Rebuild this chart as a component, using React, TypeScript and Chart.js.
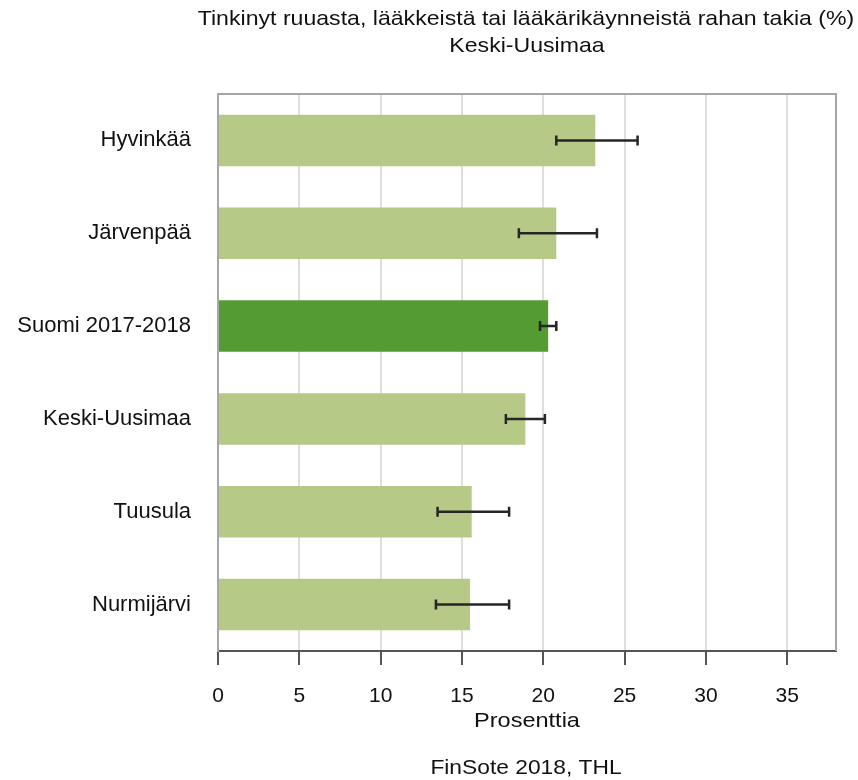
import React, { useEffect, useRef } from "react";
import { Chart, registerables } from "chart.js";
Chart.register(...registerables);

const categories = ["Hyvinkää", "Järvenpää", "Suomi 2017-2018", "Keski-Uusimaa", "Tuusula", "Nurmijärvi"];
const values = [23.2, 20.8, 20.3, 18.9, 15.6, 15.5];
const lowerCI = [20.8, 18.5, 19.8, 17.7, 13.5, 13.4];
const upperCI = [25.8, 23.3, 20.8, 20.1, 17.9, 17.9];
const highlighted = "Suomi 2017-2018";
const titleLines = ["Tinkinyt ruuasta, lääkkeistä tai lääkärikäynneistä rahan takia (%)", "Keski-Uusimaa"];
const xAxisTitle = "Prosenttia";
const sourceText = "FinSote 2018, THL";
const xMin = 0;
const xMax = 38;
const xStep = 5;

const FONT = "'Liberation Sans', Arial, sans-serif";
const LIGHT = "#b7c986";
const DARK = "#549b31";

function stretchedText(ctx: any, text: string, cx: number, cy: number, sx: number) {
  ctx.save();
  ctx.translate(cx, cy);
  ctx.scale(sx, 1);
  ctx.fillText(text, 0, 0);
  ctx.restore();
}

const decorPlugin = {
  id: "decor",
  afterDatasetsDraw(chart: any) {
    const { ctx, chartArea, scales } = chart;
    const xs = scales.x;
    const ys = scales.y;
    ctx.save();
    // frame top/right
    ctx.strokeStyle = "#a6a6a6";
    ctx.lineWidth = 2;
    ctx.beginPath();
    ctx.moveTo(chartArea.left, chartArea.top);
    ctx.lineTo(chartArea.right, chartArea.top);
    ctx.lineTo(chartArea.right, chartArea.bottom);
    ctx.stroke();
    // error bars
    ctx.strokeStyle = "#262626";
    ctx.lineWidth = 2.5;
    for (let i = 0; i < categories.length; i++) {
      const y = ys.getPixelForValue(i);
      const x1 = xs.getPixelForValue(lowerCI[i]);
      const x2 = xs.getPixelForValue(upperCI[i]);
      ctx.beginPath();
      ctx.moveTo(x1, y);
      ctx.lineTo(x2, y);
      ctx.moveTo(x1, y - 5);
      ctx.lineTo(x1, y + 5);
      ctx.moveTo(x2, y - 5);
      ctx.lineTo(x2, y + 5);
      ctx.stroke();
    }
    // texts
    const cx = (chartArea.left + chartArea.right) / 2;
    ctx.fillStyle = "#111";
    ctx.textAlign = "center";
    ctx.textBaseline = "middle";
    ctx.font = `21px ${FONT}`;
    stretchedText(ctx, titleLines[0], cx - 1, 19, 1.1);
    stretchedText(ctx, titleLines[1], cx, 46, 1.1);
    stretchedText(ctx, xAxisTitle, cx, 721, 1.12);
    stretchedText(ctx, sourceText, cx - 1, 768, 1.085);
    ctx.restore();
  },
};

export default function App() {
  const ref = useRef<HTMLCanvasElement | null>(null);
  useEffect(() => {
    if (!ref.current) return;
    const chart = new Chart(ref.current, {
      type: "bar",
      data: {
        labels: categories,
        datasets: [
          {
            data: values,
            backgroundColor: categories.map((c) => (c === highlighted ? DARK : LIGHT)),
            borderWidth: 0,
            categoryPercentage: 1,
            barPercentage: 0.555,
          },
        ],
      },
      options: {
        indexAxis: "y",
        animation: false,
        responsive: false,
        maintainAspectRatio: false,
        layout: { padding: { top: 94, right: 22, bottom: 69, left: 0 } },
        plugins: { legend: { display: false }, tooltip: { enabled: false }, title: { display: false } },
        scales: {
          x: {
            type: "linear",
            min: xMin,
            max: xMax,
            afterFit: (s: any) => {
              s.height = 60;
            },
            ticks: {
              stepSize: xStep,
              includeBounds: false,
              color: "#111",
              font: { family: FONT, size: 21 },
              padding: 19,
            },
            grid: {
              color: "#dedede",
              lineWidth: 2,
              drawTicks: true,
              tickLength: 14,
              tickColor: "#555",
              tickWidth: 2,
            },
            border: { display: true, color: "#555", width: 2 },
          },
          y: {
            afterFit: (s: any) => {
              s.width = 218;
            },
            ticks: { color: "#111", font: { family: FONT, size: 22 }, padding: 27 },
            grid: { display: false, drawTicks: false },
            border: { display: true, color: "#a6a6a6", width: 2 },
          },
        },
      },
      plugins: [decorPlugin],
    });
    return () => chart.destroy();
  }, []);
  return (
    <div style={{ position: "absolute", left: 0, top: 0, width: 858, height: 780 }}>
      <canvas ref={ref} width={858} height={780} style={{ width: 858, height: 780 }} />
    </div>
  );
}
